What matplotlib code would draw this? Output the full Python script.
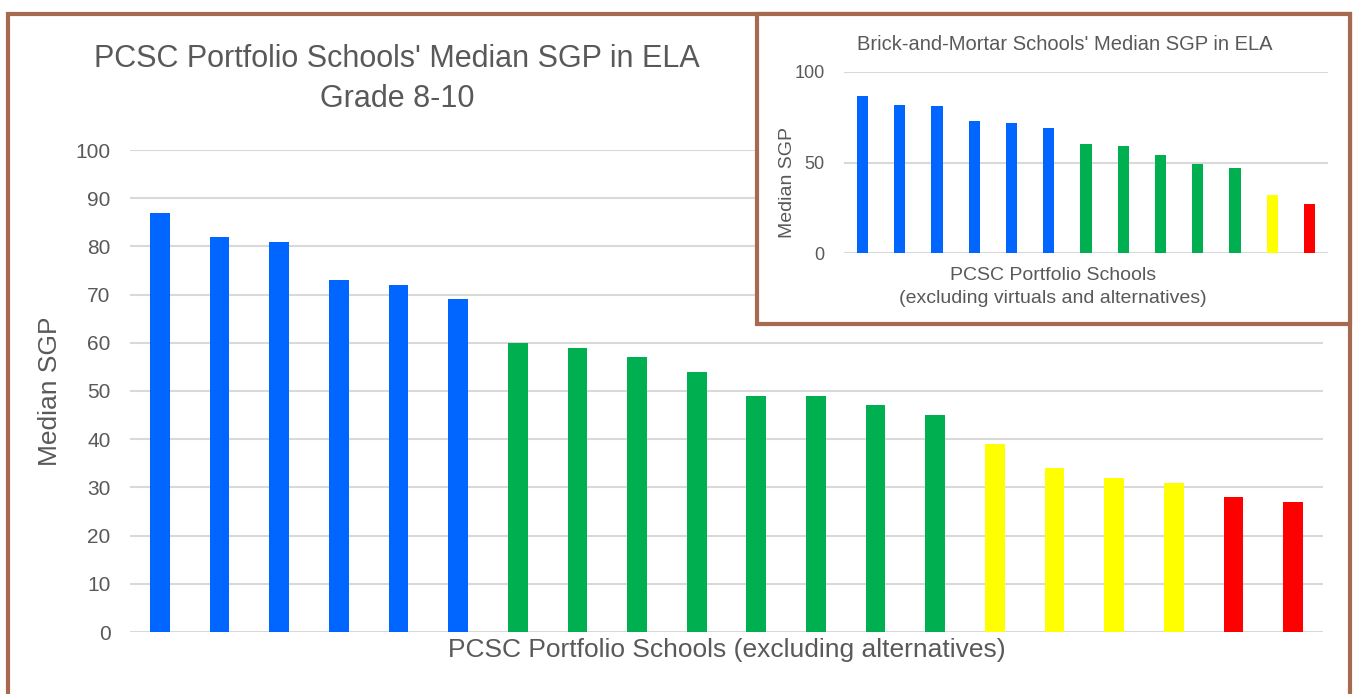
import matplotlib.pyplot as plt
from matplotlib.patches import Rectangle

# main chart data (grade 8-10, all portfolio schools except alternatives)
main_values = [87, 82, 81, 73, 72, 69, 60, 59, 57, 54, 49, 49, 47, 45, 39, 34, 32, 31, 28, 27]
main_groups = ['blue'] * 6 + ['green'] * 8 + ['yellow'] * 4 + ['red'] * 2

# inset data (brick-and-mortar only)
inset_values = [87, 82, 81, 73, 72, 69, 60, 59, 54, 49, 47, 32, 27]
inset_groups = ['blue'] * 6 + ['green'] * 5 + ['yellow'] + ['red']

colors = {'blue': '#0066FF', 'green': '#00B050', 'yellow': '#FFFF00', 'red': '#FF0000'}
txt = '#595959'
brown = '#A66A50'
grid = '#D9D9D9'

plt.rcParams['font.family'] = ['Liberation Sans Narrow', 'Liberation Sans', 'DejaVu Sans']

W, H = 1354, 694
fig = plt.figure(figsize=(W / 100, H / 100), dpi=100)

def box(x0, y0, x1, y1):
    # pixel box (top-left origin) -> figure fractions
    return [x0 / W, 1 - y1 / H, (x1 - x0) / W, (y1 - y0) / H]

# main axes
ax = fig.add_axes(box(130, 150, 1323, 632))
ax.bar(range(len(main_values)), main_values, width=0.33,
       color=[colors[g] for g in main_groups], zorder=3)
ax.set_xlim(-0.5, len(main_values) - 0.5)
ax.set_ylim(0, 100)
ax.set_yticks(range(0, 101, 10))
ax.set_xticks([])
ax.grid(axis='y', color=grid, linewidth=1.5, zorder=0)
for s in ax.spines.values():
    s.set_visible(False)
ax.tick_params(axis='y', length=0, labelsize=15, labelcolor=txt, pad=14)
ax.set_ylabel('Median SGP', fontsize=19, color=txt, labelpad=10)
ax.set_xlabel('PCSC Portfolio Schools (excluding alternatives)', fontsize=19, color=txt, labelpad=4)
fig.text(397 / W, 1 - 79 / H, "PCSC Portfolio Schools' Median SGP in ELA\nGrade 8-10",
         ha='center', va='center', fontsize=22, color=txt, linespacing=1.4)

# outer frame
fig.patches.append(Rectangle((8 / W, -0.02), 1342 / W, 1.02 - 14 / H, transform=fig.transFigure,
                             fill=False, edgecolor=brown, linewidth=3, zorder=1))

# inset box
fig.patches.append(Rectangle((757 / W, 1 - 324 / H), 593 / W, 310 / H, transform=fig.transFigure,
                             facecolor='white', edgecolor=brown, linewidth=3, zorder=2))

ax2 = fig.add_axes(box(844, 72, 1328, 253))
ax2.set_zorder(3)
ax2.patch.set_visible(False)
ax2.bar(range(len(inset_values)), inset_values, width=0.3,
        color=[colors[g] for g in inset_groups], zorder=3)
ax2.set_xlim(-0.5, len(inset_values) - 0.5)
ax2.set_ylim(0, 100)
ax2.set_yticks([0, 50, 100])
ax2.set_xticks([])
ax2.grid(axis='y', color=grid, linewidth=1.5, zorder=0)
for s in ax2.spines.values():
    s.set_visible(False)
ax2.tick_params(axis='y', length=0, labelsize=13, labelcolor=txt, pad=14)
ax2.set_ylabel('Median SGP', fontsize=14, color=txt)
ax2.yaxis.set_label_coords(-0.10, 0.39)
ax2.set_xlabel('PCSC Portfolio Schools\n(excluding virtuals and alternatives)', fontsize=14,
               color=txt, linespacing=1.45)
ax2.xaxis.set_label_coords(0.432, -0.078)
fig.text(1065 / W, 1 - 45 / H, "Brick-and-Mortar Schools' Median SGP in ELA",
         ha='center', va='center', fontsize=14.5, color=txt)

fig.savefig('out.png', dpi=100)
